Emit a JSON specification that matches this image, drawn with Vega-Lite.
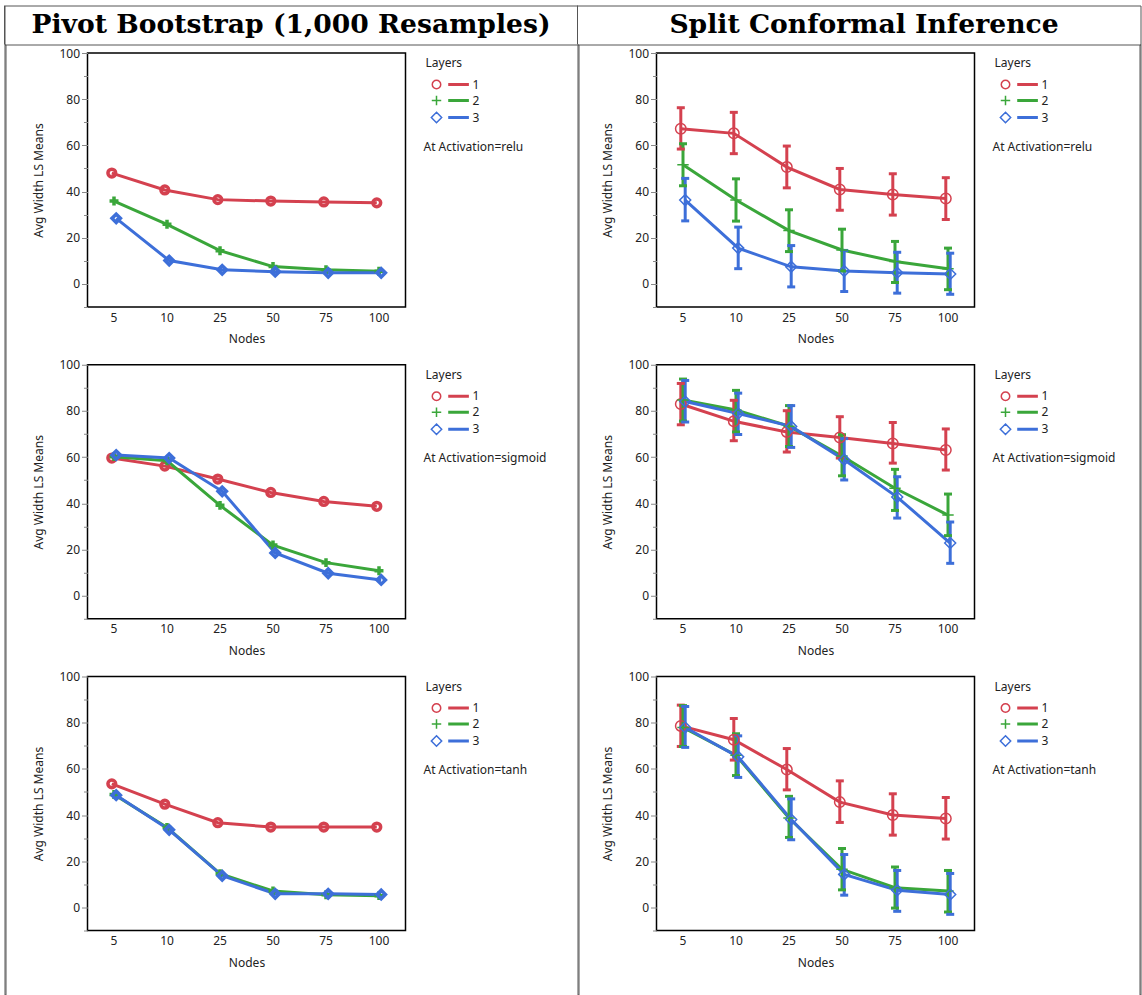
{
"$schema": "https://vega.github.io/schema/vega-lite/v6.json",
"padding": {"left": 3.5, "top": 4.5, "right": 0, "bottom": 0},
"background": "white",
"config": {
  "view": {"stroke": null},
  "font": "Noto Sans",
  "axis": {"labelFont": "Noto Sans", "labelFontSize": 12, "labelColor": "#222", "titleFont": "Noto Sans", "titleFontSize": 12, "titleFontWeight": "normal", "titleColor": "#222", "grid": false},
  "axisX": {"labelAngle": 0, "ticks": false, "tickSize": 0, "domain": false, "labelPadding": 5, "titlePadding": 10.5},
  "axisY": {"domain": false, "tickColor": "#888", "labelPadding": 2, "titlePadding": 13, "labelFlush": false, "labelOverlap": false},
  "legend": {"orient": "none", "legendX": 338, "legendY": 5, "padding": 0, "titleFont": "Noto Sans", "titleFontSize": 12, "titleFontWeight": "normal", "titleColor": "#222", "titlePadding": 8.5, "labelFont": "Noto Sans", "labelFontSize": 12, "labelColor": "#222", "labelOffset": 30, "symbolSize": 81, "symbolStrokeWidth": 1.5, "symbolOffset": 5, "rowPadding": 0, "symbolOpacity": 1, "symbolFillColor": "transparent"},
  "title": {"orient": "bottom", "anchor": "start", "frame": "group", "dx": 336, "dy": -207, "baseline": "middle", "offset": 0, "font": "Noto Sans", "fontSize": 12, "fontWeight": "normal", "color": "#222"}
},
"datasets": {
  "boot_relu": [
    {"Nodes":5,"Layers":"1","mean":48.0},{"Nodes":10,"Layers":"1","mean":40.7},{"Nodes":25,"Layers":"1","mean":36.5},{"Nodes":50,"Layers":"1","mean":35.9},{"Nodes":75,"Layers":"1","mean":35.5},{"Nodes":100,"Layers":"1","mean":35.1},
    {"Nodes":5,"Layers":"2","mean":35.9},{"Nodes":10,"Layers":"2","mean":25.8},{"Nodes":25,"Layers":"2","mean":14.4},{"Nodes":50,"Layers":"2","mean":7.5},{"Nodes":75,"Layers":"2","mean":6.1},{"Nodes":100,"Layers":"2","mean":5.5},
    {"Nodes":5,"Layers":"3","mean":28.4},{"Nodes":10,"Layers":"3","mean":10.1},{"Nodes":25,"Layers":"3","mean":6.1},{"Nodes":50,"Layers":"3","mean":5.3},{"Nodes":75,"Layers":"3","mean":4.8},{"Nodes":100,"Layers":"3","mean":4.8}
  ],
  "boot_sigmoid": [
    {"Nodes":5,"Layers":"1","mean":59.6},{"Nodes":10,"Layers":"1","mean":56.1},{"Nodes":25,"Layers":"1","mean":50.5},{"Nodes":50,"Layers":"1","mean":44.7},{"Nodes":75,"Layers":"1","mean":40.8},{"Nodes":100,"Layers":"1","mean":38.7},
    {"Nodes":5,"Layers":"2","mean":60.2},{"Nodes":10,"Layers":"2","mean":58.4},{"Nodes":25,"Layers":"2","mean":39.1},{"Nodes":50,"Layers":"2","mean":21.9},{"Nodes":75,"Layers":"2","mean":14.3},{"Nodes":100,"Layers":"2","mean":10.8},
    {"Nodes":5,"Layers":"3","mean":60.9},{"Nodes":10,"Layers":"3","mean":59.6},{"Nodes":25,"Layers":"3","mean":45.2},{"Nodes":50,"Layers":"3","mean":18.5},{"Nodes":75,"Layers":"3","mean":9.7},{"Nodes":100,"Layers":"3","mean":6.8}
  ],
  "boot_tanh": [
    {"Nodes":5,"Layers":"1","mean":53.5},{"Nodes":10,"Layers":"1","mean":44.7},{"Nodes":25,"Layers":"1","mean":36.7},{"Nodes":50,"Layers":"1","mean":34.8},{"Nodes":75,"Layers":"1","mean":34.8},{"Nodes":100,"Layers":"1","mean":34.8},
    {"Nodes":5,"Layers":"2","mean":48.9},{"Nodes":10,"Layers":"2","mean":34.6},{"Nodes":25,"Layers":"2","mean":14.6},{"Nodes":50,"Layers":"2","mean":7.1},{"Nodes":75,"Layers":"2","mean":5.5},{"Nodes":100,"Layers":"2","mean":5.1},
    {"Nodes":5,"Layers":"3","mean":48.6},{"Nodes":10,"Layers":"3","mean":33.6},{"Nodes":25,"Layers":"3","mean":13.7},{"Nodes":50,"Layers":"3","mean":5.9},{"Nodes":75,"Layers":"3","mean":5.9},{"Nodes":100,"Layers":"3","mean":5.6}
  ],
  "conf_relu": [
    {"Nodes":5,"Layers":"1","mean":67.2,"lo":58.4,"hi":76.3},{"Nodes":10,"Layers":"1","mean":65.2,"lo":56.4,"hi":74.3},{"Nodes":25,"Layers":"1","mean":50.6,"lo":41.6,"hi":59.7},{"Nodes":50,"Layers":"1","mean":40.9,"lo":31.9,"hi":50.0},{"Nodes":75,"Layers":"1","mean":38.7,"lo":29.8,"hi":47.7},{"Nodes":100,"Layers":"1","mean":37.0,"lo":27.9,"hi":46.0},
    {"Nodes":5,"Layers":"2","mean":51.6,"lo":42.5,"hi":60.7},{"Nodes":10,"Layers":"2","mean":36.3,"lo":27.2,"hi":45.5},{"Nodes":25,"Layers":"2","mean":23.1,"lo":14.0,"hi":32.1},{"Nodes":50,"Layers":"2","mean":14.7,"lo":5.6,"hi":23.7},{"Nodes":75,"Layers":"2","mean":9.7,"lo":0.6,"hi":18.4},{"Nodes":100,"Layers":"2","mean":6.6,"lo":-2.5,"hi":15.5},
    {"Nodes":5,"Layers":"3","mean":36.3,"lo":27.3,"hi":45.7},{"Nodes":10,"Layers":"3","mean":15.5,"lo":6.6,"hi":24.6},{"Nodes":25,"Layers":"3","mean":7.4,"lo":-1.3,"hi":16.6},{"Nodes":50,"Layers":"3","mean":5.6,"lo":-3.3,"hi":14.5},{"Nodes":75,"Layers":"3","mean":4.8,"lo":-4.0,"hi":13.7},{"Nodes":100,"Layers":"3","mean":4.3,"lo":-4.5,"hi":13.3}
  ],
  "conf_sigmoid": [
    {"Nodes":5,"Layers":"1","mean":83.0,"lo":74.0,"hi":91.9},{"Nodes":10,"Layers":"1","mean":75.5,"lo":67.1,"hi":84.6},{"Nodes":25,"Layers":"1","mean":70.9,"lo":62.2,"hi":80.1},{"Nodes":50,"Layers":"1","mean":68.5,"lo":59.6,"hi":77.5},{"Nodes":75,"Layers":"1","mean":65.9,"lo":57.4,"hi":75.0},{"Nodes":100,"Layers":"1","mean":63.1,"lo":54.4,"hi":72.2},
    {"Nodes":5,"Layers":"2","mean":84.7,"lo":75.6,"hi":93.8},{"Nodes":10,"Layers":"2","mean":80.4,"lo":70.9,"hi":88.9},{"Nodes":25,"Layers":"2","mean":73.4,"lo":64.6,"hi":82.3},{"Nodes":50,"Layers":"2","mean":60.5,"lo":51.9,"hi":69.7},{"Nodes":75,"Layers":"2","mean":46.5,"lo":36.9,"hi":54.7},{"Nodes":100,"Layers":"2","mean":34.9,"lo":26.0,"hi":44.0},
    {"Nodes":5,"Layers":"3","mean":84.1,"lo":75.2,"hi":93.2},{"Nodes":10,"Layers":"3","mean":78.9,"lo":69.8,"hi":87.7},{"Nodes":25,"Layers":"3","mean":73.3,"lo":64.2,"hi":82.3},{"Nodes":50,"Layers":"3","mean":58.9,"lo":50.1,"hi":68.0},{"Nodes":75,"Layers":"3","mean":42.7,"lo":33.6,"hi":51.5},{"Nodes":100,"Layers":"3","mean":22.8,"lo":14.0,"hi":31.9}
  ],
  "conf_tanh": [
    {"Nodes":5,"Layers":"1","mean":78.6,"lo":69.7,"hi":87.6},{"Nodes":10,"Layers":"1","mean":72.6,"lo":63.8,"hi":81.8},{"Nodes":25,"Layers":"1","mean":59.7,"lo":50.9,"hi":68.8},{"Nodes":50,"Layers":"1","mean":45.6,"lo":36.8,"hi":54.8},{"Nodes":75,"Layers":"1","mean":40.0,"lo":31.3,"hi":49.2},{"Nodes":100,"Layers":"1","mean":38.5,"lo":29.6,"hi":47.6},
    {"Nodes":5,"Layers":"2","mean":77.9,"lo":69.7,"hi":87.4},{"Nodes":10,"Layers":"2","mean":65.9,"lo":57.1,"hi":75.2},{"Nodes":25,"Layers":"2","mean":38.7,"lo":30.3,"hi":48.1},{"Nodes":50,"Layers":"2","mean":16.5,"lo":7.6,"hi":25.5},{"Nodes":75,"Layers":"2","mean":8.5,"lo":-0.3,"hi":17.5},{"Nodes":100,"Layers":"2","mean":7.1,"lo":-2.0,"hi":16.0},
    {"Nodes":5,"Layers":"3","mean":77.9,"lo":69.3,"hi":87.0},{"Nodes":10,"Layers":"3","mean":65.2,"lo":56.3,"hi":74.3},{"Nodes":25,"Layers":"3","mean":38.1,"lo":29.3,"hi":47.0},{"Nodes":50,"Layers":"3","mean":14.3,"lo":5.3,"hi":22.9},{"Nodes":75,"Layers":"3","mean":7.4,"lo":-1.7,"hi":16.0},{"Nodes":100,"Layers":"3","mean":5.6,"lo":-3.0,"hi":14.7}
  ]
},
"bounds": "flush",
"spacing": 0,
"vconcat": [
  {
    "width": 1136, "height": 39,
    "view": {"stroke": "#555", "strokeWidth": 1},
    "data": {"values": [{"col": "Pivot Bootstrap (1,000 Resamples)"}, {"col": "Split Conformal Inference"}]},
    "layer": [
      {"mark": {"type": "rule", "color": "#555", "strokeWidth": 1}, "encoding": {"x": {"field": "col", "type": "nominal", "sort": null, "bandPosition": 0, "scale": {"type": "band", "range": [0, 1146], "paddingInner": 0, "paddingOuter": 0}, "axis": null}}},
      {"mark": {"type": "text", "font": "DejaVu Serif", "fontWeight": "bold", "fontSize": 26.6, "color": "#000", "baseline": "middle", "align": "center"}, "encoding": {"x": {"field": "col", "type": "nominal", "sort": null, "scale": {"type": "band", "range": [0, 1146], "paddingInner": 0, "paddingOuter": 0}, "axis": null}, "text": {"field": "col"}}}
    ]
  },
  {
    "bounds": "flush",
    "spacing": 82,
    "hconcat": [
      {"width": 1, "height": 950, "view": {"stroke": "#555", "strokeWidth": 1}, "data": {"values": [{}]}, "mark": "text", "encoding": {"text": {"value": ""}}},
      {
        "bounds": "flush",
        "spacing": 490,
        "hconcat": [
          {
            "bounds": "flush",
            "spacing": 7.5,
            "vconcat": [
              {"width": 1, "height": 1, "data": {"values": [{}]}, "mark": "text", "encoding": {"text": {"value": ""}}},
              {
                "spacing": 57.75,
                "bounds": "flush",
                "resolve": {"scale": {"color": "independent", "shape": "independent"}, "legend": {"color": "independent", "shape": "independent"}},
                "vconcat": [
                  {
                    "width": 318, "height": 254,
                    "view": {"stroke": "#000", "strokeWidth": 1.5},
                    "data": {"name": "boot_relu"},
                    "title": {"text": "At Activation=relu"},
                    "resolve": {"axis": {"y": "independent"}},
                    "encoding": {
                      "x": {"field": "Nodes", "type": "ordinal", "title": "Nodes", "scale": {"type": "band", "paddingInner": 0, "paddingOuter": 0}},
                      "xOffset": {"field": "Layers", "type": "nominal", "scale": {"type": "point", "padding": 0, "range": [24.3, 28.7]}},
                      "color": {"field": "Layers", "type": "nominal", "scale": {"domain": ["1","2","3"], "range": ["#D4414F", "#3AA63A", "#3D6FD9"]}, "legend": {"title": "Layers"}}
                    },
                    "layer": [
                      {"mark": {"type": "line", "strokeWidth": 3}, "encoding": {"y": {"field": "mean", "type": "quantitative", "title": "Avg Width LS Means", "scale": {"domain": [-10, 100], "nice": false, "zero": false}, "axis": {"values": [0,20,40,60,80,100], "tickSize": 6}}}},
                      {"mark": {"type": "point", "filled": false, "opacity": 0, "size": 81}, "encoding": {"y": {"field": "mean", "type": "quantitative", "title": "Avg Width LS Means", "scale": {"domain": [-10, 100], "nice": false, "zero": false}, "axis": {"orient": "left", "values": [-10,10,30,50,70,90], "labels": false, "tickSize": 4, "title": null}}, "shape": {"field": "Layers", "type": "nominal", "scale": {"domain": ["1","2","3"], "range": ["M-0.94,0A0.94,0.94 0 1,1 0.94,0A0.94,0.94 0 1,1 -0.94,0ZM2.77,-0.17L7.03,-0.17L7.03,0.17L2.77,0.17Z", "M-1.05,0L1.05,0M0,-1.05L0,1.05M2.77,-0.17L7.03,-0.17L7.03,0.17L2.77,0.17Z", "M0,-1.15L1.15,0L0,1.15L-1.15,0ZM2.77,-0.17L7.03,-0.17L7.03,0.17L2.77,0.17Z"]}, "legend": {"title": "Layers"}}}},
                      {"transform": [{"filter": "datum.Layers == '1'"}], "mark": {"type": "point", "shape": "circle", "filled": false, "size": 60, "strokeWidth": 3.5, "opacity": 1}, "encoding": {"y": {"field": "mean", "type": "quantitative", "title": "Avg Width LS Means", "scale": {"domain": [-10, 100], "nice": false, "zero": false}, "axis": null}}},
                      {"transform": [{"filter": "datum.Layers == '2'"}], "mark": {"type": "point", "shape": "M-1,0L1,0M0,-1L0,1", "filled": false, "size": 80, "strokeWidth": 3.5, "opacity": 1}, "encoding": {"y": {"field": "mean", "type": "quantitative", "title": "Avg Width LS Means", "scale": {"domain": [-10, 100], "nice": false, "zero": false}, "axis": null}}},
                      {"transform": [{"filter": "datum.Layers == '3'"}], "mark": {"type": "point", "shape": "diamond", "filled": false, "size": 70, "strokeWidth": 3.5, "opacity": 1}, "encoding": {"y": {"field": "mean", "type": "quantitative", "title": "Avg Width LS Means", "scale": {"domain": [-10, 100], "nice": false, "zero": false}, "axis": null}}}
                    ]
                  },
                  {
                    "width": 318, "height": 254,
                    "view": {"stroke": "#000", "strokeWidth": 1.5},
                    "data": {"name": "boot_sigmoid"},
                    "title": {"text": "At Activation=sigmoid"},
                    "resolve": {"axis": {"y": "independent"}},
                    "encoding": {
                      "x": {"field": "Nodes", "type": "ordinal", "title": "Nodes", "scale": {"type": "band", "paddingInner": 0, "paddingOuter": 0}},
                      "xOffset": {"field": "Layers", "type": "nominal", "scale": {"type": "point", "padding": 0, "range": [24.3, 28.7]}},
                      "color": {"field": "Layers", "type": "nominal", "scale": {"domain": ["1","2","3"], "range": ["#D4414F", "#3AA63A", "#3D6FD9"]}, "legend": {"title": "Layers"}}
                    },
                    "layer": [
                      {"mark": {"type": "line", "strokeWidth": 3}, "encoding": {"y": {"field": "mean", "type": "quantitative", "title": "Avg Width LS Means", "scale": {"domain": [-10, 100], "nice": false, "zero": false}, "axis": {"values": [0,20,40,60,80,100], "tickSize": 6}}}},
                      {"mark": {"type": "point", "filled": false, "opacity": 0, "size": 81}, "encoding": {"y": {"field": "mean", "type": "quantitative", "title": "Avg Width LS Means", "scale": {"domain": [-10, 100], "nice": false, "zero": false}, "axis": {"orient": "left", "values": [-10,10,30,50,70,90], "labels": false, "tickSize": 4, "title": null}}, "shape": {"field": "Layers", "type": "nominal", "scale": {"domain": ["1","2","3"], "range": ["M-0.94,0A0.94,0.94 0 1,1 0.94,0A0.94,0.94 0 1,1 -0.94,0ZM2.77,-0.17L7.03,-0.17L7.03,0.17L2.77,0.17Z", "M-1.05,0L1.05,0M0,-1.05L0,1.05M2.77,-0.17L7.03,-0.17L7.03,0.17L2.77,0.17Z", "M0,-1.15L1.15,0L0,1.15L-1.15,0ZM2.77,-0.17L7.03,-0.17L7.03,0.17L2.77,0.17Z"]}, "legend": {"title": "Layers"}}}},
                      {"transform": [{"filter": "datum.Layers == '1'"}], "mark": {"type": "point", "shape": "circle", "filled": false, "size": 60, "strokeWidth": 3.5, "opacity": 1}, "encoding": {"y": {"field": "mean", "type": "quantitative", "title": "Avg Width LS Means", "scale": {"domain": [-10, 100], "nice": false, "zero": false}, "axis": null}}},
                      {"transform": [{"filter": "datum.Layers == '2'"}], "mark": {"type": "point", "shape": "M-1,0L1,0M0,-1L0,1", "filled": false, "size": 80, "strokeWidth": 3.5, "opacity": 1}, "encoding": {"y": {"field": "mean", "type": "quantitative", "title": "Avg Width LS Means", "scale": {"domain": [-10, 100], "nice": false, "zero": false}, "axis": null}}},
                      {"transform": [{"filter": "datum.Layers == '3'"}], "mark": {"type": "point", "shape": "diamond", "filled": false, "size": 70, "strokeWidth": 3.5, "opacity": 1}, "encoding": {"y": {"field": "mean", "type": "quantitative", "title": "Avg Width LS Means", "scale": {"domain": [-10, 100], "nice": false, "zero": false}, "axis": null}}}
                    ]
                  },
                  {
                    "width": 318, "height": 254,
                    "view": {"stroke": "#000", "strokeWidth": 1.5},
                    "data": {"name": "boot_tanh"},
                    "title": {"text": "At Activation=tanh"},
                    "resolve": {"axis": {"y": "independent"}},
                    "encoding": {
                      "x": {"field": "Nodes", "type": "ordinal", "title": "Nodes", "scale": {"type": "band", "paddingInner": 0, "paddingOuter": 0}},
                      "xOffset": {"field": "Layers", "type": "nominal", "scale": {"type": "point", "padding": 0, "range": [24.3, 28.7]}},
                      "color": {"field": "Layers", "type": "nominal", "scale": {"domain": ["1","2","3"], "range": ["#D4414F", "#3AA63A", "#3D6FD9"]}, "legend": {"title": "Layers"}}
                    },
                    "layer": [
                      {"mark": {"type": "line", "strokeWidth": 3}, "encoding": {"y": {"field": "mean", "type": "quantitative", "title": "Avg Width LS Means", "scale": {"domain": [-10, 100], "nice": false, "zero": false}, "axis": {"values": [0,20,40,60,80,100], "tickSize": 6}}}},
                      {"mark": {"type": "point", "filled": false, "opacity": 0, "size": 81}, "encoding": {"y": {"field": "mean", "type": "quantitative", "title": "Avg Width LS Means", "scale": {"domain": [-10, 100], "nice": false, "zero": false}, "axis": {"orient": "left", "values": [-10,10,30,50,70,90], "labels": false, "tickSize": 4, "title": null}}, "shape": {"field": "Layers", "type": "nominal", "scale": {"domain": ["1","2","3"], "range": ["M-0.94,0A0.94,0.94 0 1,1 0.94,0A0.94,0.94 0 1,1 -0.94,0ZM2.77,-0.17L7.03,-0.17L7.03,0.17L2.77,0.17Z", "M-1.05,0L1.05,0M0,-1.05L0,1.05M2.77,-0.17L7.03,-0.17L7.03,0.17L2.77,0.17Z", "M0,-1.15L1.15,0L0,1.15L-1.15,0ZM2.77,-0.17L7.03,-0.17L7.03,0.17L2.77,0.17Z"]}, "legend": {"title": "Layers"}}}},
                      {"transform": [{"filter": "datum.Layers == '1'"}], "mark": {"type": "point", "shape": "circle", "filled": false, "size": 60, "strokeWidth": 3.5, "opacity": 1}, "encoding": {"y": {"field": "mean", "type": "quantitative", "title": "Avg Width LS Means", "scale": {"domain": [-10, 100], "nice": false, "zero": false}, "axis": null}}},
                      {"transform": [{"filter": "datum.Layers == '2'"}], "mark": {"type": "point", "shape": "M-1,0L1,0M0,-1L0,1", "filled": false, "size": 80, "strokeWidth": 3.5, "opacity": 1}, "encoding": {"y": {"field": "mean", "type": "quantitative", "title": "Avg Width LS Means", "scale": {"domain": [-10, 100], "nice": false, "zero": false}, "axis": null}}},
                      {"transform": [{"filter": "datum.Layers == '3'"}], "mark": {"type": "point", "shape": "diamond", "filled": false, "size": 70, "strokeWidth": 3.5, "opacity": 1}, "encoding": {"y": {"field": "mean", "type": "quantitative", "title": "Avg Width LS Means", "scale": {"domain": [-10, 100], "nice": false, "zero": false}, "axis": null}}}
                    ]
                  }
                ]
              }
            ]
          },
          {
            "bounds": "flush",
            "spacing": 78,
            "hconcat": [
              {"width": 1, "height": 950, "view": {"stroke": "#555", "strokeWidth": 1}, "data": {"values": [{}]}, "mark": "text", "encoding": {"text": {"value": ""}}},
              {
                "bounds": "flush",
                "spacing": 483,
                "hconcat": [
                  {
                    "bounds": "flush",
                    "spacing": 7.5,
                    "vconcat": [
                      {"width": 1, "height": 1, "data": {"values": [{}]}, "mark": "text", "encoding": {"text": {"value": ""}}},
                      {
                        "spacing": 57.75,
                        "bounds": "flush",
                        "resolve": {"scale": {"color": "independent", "shape": "independent"}, "legend": {"color": "independent", "shape": "independent"}},
                        "vconcat": [
                          {
                            "width": 318, "height": 254,
                            "view": {"stroke": "#000", "strokeWidth": 1.5},
                            "data": {"name": "conf_relu"},
                            "title": {"text": "At Activation=relu"},
                            "resolve": {"axis": {"y": "independent"}},
                            "encoding": {
                              "x": {"field": "Nodes", "type": "ordinal", "title": "Nodes", "scale": {"type": "band", "paddingInner": 0, "paddingOuter": 0}},
                              "xOffset": {"field": "Layers", "type": "nominal", "scale": {"type": "point", "padding": 0, "range": [24.3, 28.7]}},
                              "color": {"field": "Layers", "type": "nominal", "scale": {"domain": ["1","2","3"], "range": ["#D4414F", "#3AA63A", "#3D6FD9"]}, "legend": {"title": "Layers"}}
                            },
                            "layer": [
                              {"mark": {"type": "line", "strokeWidth": 3}, "encoding": {"y": {"field": "mean", "type": "quantitative", "title": "Avg Width LS Means", "scale": {"domain": [-10, 100], "nice": false, "zero": false}, "axis": {"values": [0,20,40,60,80,100], "tickSize": 6}}}},
                              {"mark": {"type": "point", "filled": false, "opacity": 0, "size": 81}, "encoding": {"y": {"field": "mean", "type": "quantitative", "title": "Avg Width LS Means", "scale": {"domain": [-10, 100], "nice": false, "zero": false}, "axis": {"orient": "left", "values": [-10,10,30,50,70,90], "labels": false, "tickSize": 4, "title": null}}, "shape": {"field": "Layers", "type": "nominal", "scale": {"domain": ["1","2","3"], "range": ["M-0.94,0A0.94,0.94 0 1,1 0.94,0A0.94,0.94 0 1,1 -0.94,0ZM2.77,-0.17L7.03,-0.17L7.03,0.17L2.77,0.17Z", "M-1.05,0L1.05,0M0,-1.05L0,1.05M2.77,-0.17L7.03,-0.17L7.03,0.17L2.77,0.17Z", "M0,-1.15L1.15,0L0,1.15L-1.15,0ZM2.77,-0.17L7.03,-0.17L7.03,0.17L2.77,0.17Z"]}, "legend": {"title": "Layers"}}}},
                              {"mark": {"type": "rule", "strokeWidth": 3}, "encoding": {"y": {"field": "lo", "type": "quantitative", "title": "Avg Width LS Means", "scale": {"domain": [-10, 100], "nice": false, "zero": false}, "axis": null}, "y2": {"field": "hi"}}},
                              {"mark": {"type": "point", "shape": "stroke", "filled": false, "size": 64, "strokeWidth": 3, "opacity": 1}, "encoding": {"y": {"field": "lo", "type": "quantitative", "title": "Avg Width LS Means", "scale": {"domain": [-10, 100], "nice": false, "zero": false}, "axis": null}}},
                              {"mark": {"type": "point", "shape": "stroke", "filled": false, "size": 64, "strokeWidth": 3, "opacity": 1}, "encoding": {"y": {"field": "hi", "type": "quantitative", "title": "Avg Width LS Means", "scale": {"domain": [-10, 100], "nice": false, "zero": false}, "axis": null}}},
                              {"transform": [{"filter": "datum.Layers == '1'"}], "mark": {"type": "point", "shape": "circle", "filled": false, "size": 110, "strokeWidth": 1.5, "opacity": 1}, "encoding": {"y": {"field": "mean", "type": "quantitative", "title": "Avg Width LS Means", "scale": {"domain": [-10, 100], "nice": false, "zero": false}, "axis": null}}},
                              {"transform": [{"filter": "datum.Layers == '2'"}], "mark": {"type": "point", "shape": "M-1,0L1,0M0,-1L0,1", "filled": false, "size": 130, "strokeWidth": 1.5, "opacity": 1}, "encoding": {"y": {"field": "mean", "type": "quantitative", "title": "Avg Width LS Means", "scale": {"domain": [-10, 100], "nice": false, "zero": false}, "axis": null}}},
                              {"transform": [{"filter": "datum.Layers == '3'"}], "mark": {"type": "point", "shape": "diamond", "filled": false, "size": 120, "strokeWidth": 1.5, "opacity": 1}, "encoding": {"y": {"field": "mean", "type": "quantitative", "title": "Avg Width LS Means", "scale": {"domain": [-10, 100], "nice": false, "zero": false}, "axis": null}}}
                            ]
                          },
                          {
                            "width": 318, "height": 254,
                            "view": {"stroke": "#000", "strokeWidth": 1.5},
                            "data": {"name": "conf_sigmoid"},
                            "title": {"text": "At Activation=sigmoid"},
                            "resolve": {"axis": {"y": "independent"}},
                            "encoding": {
                              "x": {"field": "Nodes", "type": "ordinal", "title": "Nodes", "scale": {"type": "band", "paddingInner": 0, "paddingOuter": 0}},
                              "xOffset": {"field": "Layers", "type": "nominal", "scale": {"type": "point", "padding": 0, "range": [24.3, 28.7]}},
                              "color": {"field": "Layers", "type": "nominal", "scale": {"domain": ["1","2","3"], "range": ["#D4414F", "#3AA63A", "#3D6FD9"]}, "legend": {"title": "Layers"}}
                            },
                            "layer": [
                              {"mark": {"type": "line", "strokeWidth": 3}, "encoding": {"y": {"field": "mean", "type": "quantitative", "title": "Avg Width LS Means", "scale": {"domain": [-10, 100], "nice": false, "zero": false}, "axis": {"values": [0,20,40,60,80,100], "tickSize": 6}}}},
                              {"mark": {"type": "point", "filled": false, "opacity": 0, "size": 81}, "encoding": {"y": {"field": "mean", "type": "quantitative", "title": "Avg Width LS Means", "scale": {"domain": [-10, 100], "nice": false, "zero": false}, "axis": {"orient": "left", "values": [-10,10,30,50,70,90], "labels": false, "tickSize": 4, "title": null}}, "shape": {"field": "Layers", "type": "nominal", "scale": {"domain": ["1","2","3"], "range": ["M-0.94,0A0.94,0.94 0 1,1 0.94,0A0.94,0.94 0 1,1 -0.94,0ZM2.77,-0.17L7.03,-0.17L7.03,0.17L2.77,0.17Z", "M-1.05,0L1.05,0M0,-1.05L0,1.05M2.77,-0.17L7.03,-0.17L7.03,0.17L2.77,0.17Z", "M0,-1.15L1.15,0L0,1.15L-1.15,0ZM2.77,-0.17L7.03,-0.17L7.03,0.17L2.77,0.17Z"]}, "legend": {"title": "Layers"}}}},
                              {"mark": {"type": "rule", "strokeWidth": 3}, "encoding": {"y": {"field": "lo", "type": "quantitative", "title": "Avg Width LS Means", "scale": {"domain": [-10, 100], "nice": false, "zero": false}, "axis": null}, "y2": {"field": "hi"}}},
                              {"mark": {"type": "point", "shape": "stroke", "filled": false, "size": 64, "strokeWidth": 3, "opacity": 1}, "encoding": {"y": {"field": "lo", "type": "quantitative", "title": "Avg Width LS Means", "scale": {"domain": [-10, 100], "nice": false, "zero": false}, "axis": null}}},
                              {"mark": {"type": "point", "shape": "stroke", "filled": false, "size": 64, "strokeWidth": 3, "opacity": 1}, "encoding": {"y": {"field": "hi", "type": "quantitative", "title": "Avg Width LS Means", "scale": {"domain": [-10, 100], "nice": false, "zero": false}, "axis": null}}},
                              {"transform": [{"filter": "datum.Layers == '1'"}], "mark": {"type": "point", "shape": "circle", "filled": false, "size": 110, "strokeWidth": 1.5, "opacity": 1}, "encoding": {"y": {"field": "mean", "type": "quantitative", "title": "Avg Width LS Means", "scale": {"domain": [-10, 100], "nice": false, "zero": false}, "axis": null}}},
                              {"transform": [{"filter": "datum.Layers == '2'"}], "mark": {"type": "point", "shape": "M-1,0L1,0M0,-1L0,1", "filled": false, "size": 130, "strokeWidth": 1.5, "opacity": 1}, "encoding": {"y": {"field": "mean", "type": "quantitative", "title": "Avg Width LS Means", "scale": {"domain": [-10, 100], "nice": false, "zero": false}, "axis": null}}},
                              {"transform": [{"filter": "datum.Layers == '3'"}], "mark": {"type": "point", "shape": "diamond", "filled": false, "size": 120, "strokeWidth": 1.5, "opacity": 1}, "encoding": {"y": {"field": "mean", "type": "quantitative", "title": "Avg Width LS Means", "scale": {"domain": [-10, 100], "nice": false, "zero": false}, "axis": null}}}
                            ]
                          },
                          {
                            "width": 318, "height": 254,
                            "view": {"stroke": "#000", "strokeWidth": 1.5},
                            "data": {"name": "conf_tanh"},
                            "title": {"text": "At Activation=tanh"},
                            "resolve": {"axis": {"y": "independent"}},
                            "encoding": {
                              "x": {"field": "Nodes", "type": "ordinal", "title": "Nodes", "scale": {"type": "band", "paddingInner": 0, "paddingOuter": 0}},
                              "xOffset": {"field": "Layers", "type": "nominal", "scale": {"type": "point", "padding": 0, "range": [24.3, 28.7]}},
                              "color": {"field": "Layers", "type": "nominal", "scale": {"domain": ["1","2","3"], "range": ["#D4414F", "#3AA63A", "#3D6FD9"]}, "legend": {"title": "Layers"}}
                            },
                            "layer": [
                              {"mark": {"type": "line", "strokeWidth": 3}, "encoding": {"y": {"field": "mean", "type": "quantitative", "title": "Avg Width LS Means", "scale": {"domain": [-10, 100], "nice": false, "zero": false}, "axis": {"values": [0,20,40,60,80,100], "tickSize": 6}}}},
                              {"mark": {"type": "point", "filled": false, "opacity": 0, "size": 81}, "encoding": {"y": {"field": "mean", "type": "quantitative", "title": "Avg Width LS Means", "scale": {"domain": [-10, 100], "nice": false, "zero": false}, "axis": {"orient": "left", "values": [-10,10,30,50,70,90], "labels": false, "tickSize": 4, "title": null}}, "shape": {"field": "Layers", "type": "nominal", "scale": {"domain": ["1","2","3"], "range": ["M-0.94,0A0.94,0.94 0 1,1 0.94,0A0.94,0.94 0 1,1 -0.94,0ZM2.77,-0.17L7.03,-0.17L7.03,0.17L2.77,0.17Z", "M-1.05,0L1.05,0M0,-1.05L0,1.05M2.77,-0.17L7.03,-0.17L7.03,0.17L2.77,0.17Z", "M0,-1.15L1.15,0L0,1.15L-1.15,0ZM2.77,-0.17L7.03,-0.17L7.03,0.17L2.77,0.17Z"]}, "legend": {"title": "Layers"}}}},
                              {"mark": {"type": "rule", "strokeWidth": 3}, "encoding": {"y": {"field": "lo", "type": "quantitative", "title": "Avg Width LS Means", "scale": {"domain": [-10, 100], "nice": false, "zero": false}, "axis": null}, "y2": {"field": "hi"}}},
                              {"mark": {"type": "point", "shape": "stroke", "filled": false, "size": 64, "strokeWidth": 3, "opacity": 1}, "encoding": {"y": {"field": "lo", "type": "quantitative", "title": "Avg Width LS Means", "scale": {"domain": [-10, 100], "nice": false, "zero": false}, "axis": null}}},
                              {"mark": {"type": "point", "shape": "stroke", "filled": false, "size": 64, "strokeWidth": 3, "opacity": 1}, "encoding": {"y": {"field": "hi", "type": "quantitative", "title": "Avg Width LS Means", "scale": {"domain": [-10, 100], "nice": false, "zero": false}, "axis": null}}},
                              {"transform": [{"filter": "datum.Layers == '1'"}], "mark": {"type": "point", "shape": "circle", "filled": false, "size": 110, "strokeWidth": 1.5, "opacity": 1}, "encoding": {"y": {"field": "mean", "type": "quantitative", "title": "Avg Width LS Means", "scale": {"domain": [-10, 100], "nice": false, "zero": false}, "axis": null}}},
                              {"transform": [{"filter": "datum.Layers == '2'"}], "mark": {"type": "point", "shape": "M-1,0L1,0M0,-1L0,1", "filled": false, "size": 130, "strokeWidth": 1.5, "opacity": 1}, "encoding": {"y": {"field": "mean", "type": "quantitative", "title": "Avg Width LS Means", "scale": {"domain": [-10, 100], "nice": false, "zero": false}, "axis": null}}},
                              {"transform": [{"filter": "datum.Layers == '3'"}], "mark": {"type": "point", "shape": "diamond", "filled": false, "size": 120, "strokeWidth": 1.5, "opacity": 1}, "encoding": {"y": {"field": "mean", "type": "quantitative", "title": "Avg Width LS Means", "scale": {"domain": [-10, 100], "nice": false, "zero": false}, "axis": null}}}
                            ]
                          }
                        ]
                      }
                    ]
                  },
                  {"width": 1, "height": 950, "view": {"stroke": "#555", "strokeWidth": 1}, "data": {"values": [{}]}, "mark": "text", "encoding": {"text": {"value": ""}}}
                ]
              }
            ]
          }
        ]
      }
    ]
  }
]
}
